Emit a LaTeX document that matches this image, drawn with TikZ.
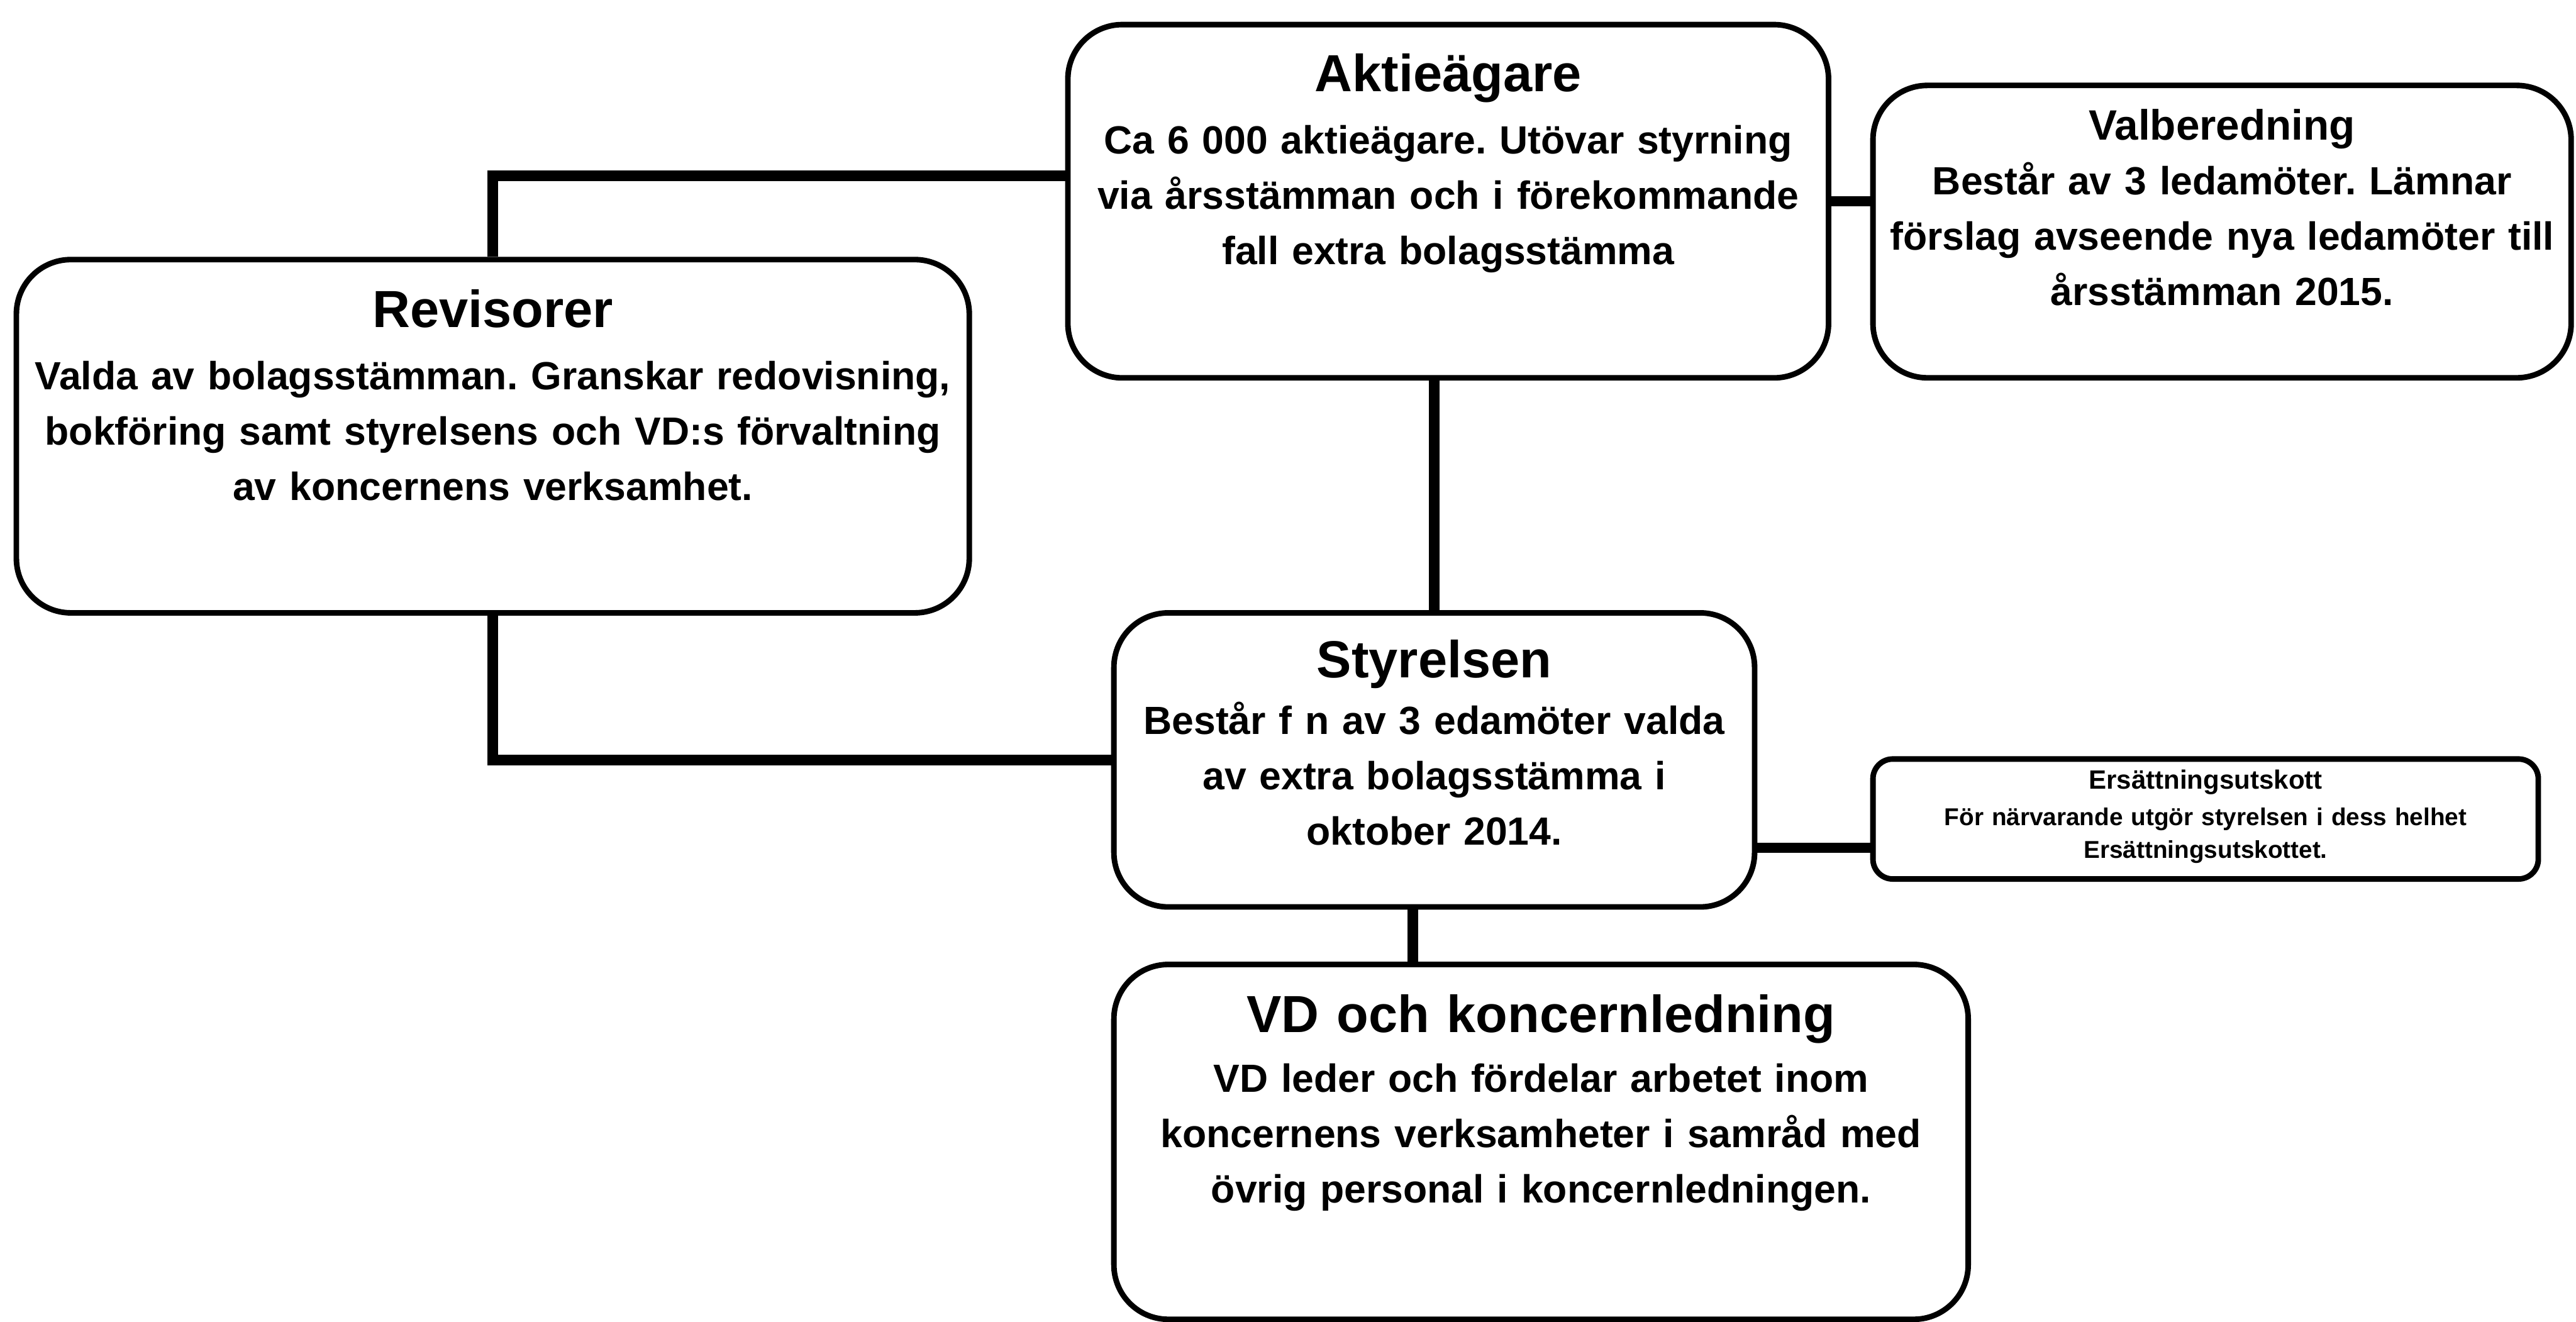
\documentclass[tikz,border=0pt]{standalone}
\usepackage{fontspec}
\setmainfont{Liberation Sans}
\usetikzlibrary{positioning}

\tikzset{
  box/.style={draw, line width=1.6pt, rounded corners=0.55cm, inner sep=0pt},
  title/.style={anchor=base, inner sep=0pt, text width=9cm, align=center,
    font=\bfseries\fontsize{15}{18}\selectfont},
  body/.style={anchor=base, inner sep=0pt, text width=9.8cm, align=center,
    font=\frenchspacing\bfseries\fontsize{11.3}{15.9}\selectfont},
  smalltitle/.style={title, font=\bfseries\fontsize{7.6}{9.4}\selectfont},
  smallbody/.style={body, font=\frenchspacing\bfseries\fontsize{7.0}{9.4}\selectfont},
  link/.style={line width=3pt},
}

\begin{document}
\begin{tikzpicture}
    \useasboundingbox (0.0, 0.0) rectangle (26.025, 13.355);

    \node [box, minimum width=7.685cm, minimum height=3.569cm] (aktie) at (14.631, 11.322) {};
    \node [box, minimum width=7.054cm, minimum height=2.954cm] (valber) at (22.449, 11.015) {};
    \node [box, minimum width=9.627cm, minimum height=3.569cm] (revisor) at (4.979, 8.948) {};
    \node [box, minimum width=6.473cm, minimum height=2.971cm] (styr) at (14.490, 5.678) {};
    \node [box, rounded corners=0.2cm, minimum width=6.722cm, minimum height=1.212cm] (ersatt) at (22.283, 5.081) {};
    \node [box, minimum width=8.631cm, minimum height=3.585cm] (vd) at (15.569, 1.819) {};

    \node [title] (aktietitle) at ([yshift=-0.702cm]aktie.north) {Aktieägare};
    \node [body] (aktiebody) at ([yshift=-1.331cm]aktie.north)
      {Ca 6 000 aktieägare. Utövar styrning\\ via årsstämman och i förekommande\\ fall extra bolagsstämma};

    \node [title, font=\bfseries\fontsize{12.2}{14}\selectfont] (valbertitle) at ([yshift=-0.581cm]valber.north) {Valberedning};
    \node [body] (valberbody) at ([yshift=-1.130cm]valber.north)
      {Består av 3 ledamöter. Lämnar\\ förslag avseende nya ledamöter till\\ årsstämman 2015.};

    \node [title] (revisortitle) at ([yshift=-0.710cm]revisor.north) {Revisorer};
    \node [body] (revisorbody) at ([yshift=-1.344cm]revisor.north)
      {Valda av bolagsstämman. Granskar redovisning,\\ bokföring samt styrelsens och VD:s förvaltning\\ av koncernens verksamhet.};

    \node [title] (styrtitle) at ([yshift=-0.681cm]styr.north) {Styrelsen};
    \node [body] (styrbody) at ([yshift=-1.253cm]styr.north)
      {Består f n av 3 edamöter valda\\ av extra bolagsstämma i\\ oktober 2014.};

    \node [smalltitle] (ersatttitle) at ([yshift=-0.332cm]ersatt.north) {Ersättningsutskott};
    \node [smallbody] (ersattbody) at ([yshift=-0.697cm]ersatt.north)
      {För närvarande utgör styrelsen i dess helhet\\ Ersättningsutskottet.};

    \node [title] (vdtitle) at ([yshift=-0.714cm]vd.north) {VD och koncernledning};
    \node [body] (vdbody) at ([yshift=-1.316cm]vd.north)
      {VD leder och fördelar arbetet inom\\ koncernens verksamheter i samråd med\\ övrig personal i koncernledningen.};

    \coordinate (aktielink) at ([yshift=0.257cm]aktie.west);
    \coordinate (ersattlink) at ([yshift=-0.291cm]ersatt.west);
    \coordinate (vdlink) at ([xshift=-0.216cm]styr.south);

    \draw [link] (revisor.north) |- (aktielink);
    \draw [link] (aktie.east) -- (aktie.east -| valber.west);
    \draw [link] (styr.north |- aktie.south) -- (styr.north);
    \draw [link] (revisor.south) |- (styr.west);
    \draw [link] (ersattlink -| styr.east) -- (ersattlink);
    \draw [link] (vdlink) -- (vdlink |- vd.north);
\end{tikzpicture}
\end{document}
